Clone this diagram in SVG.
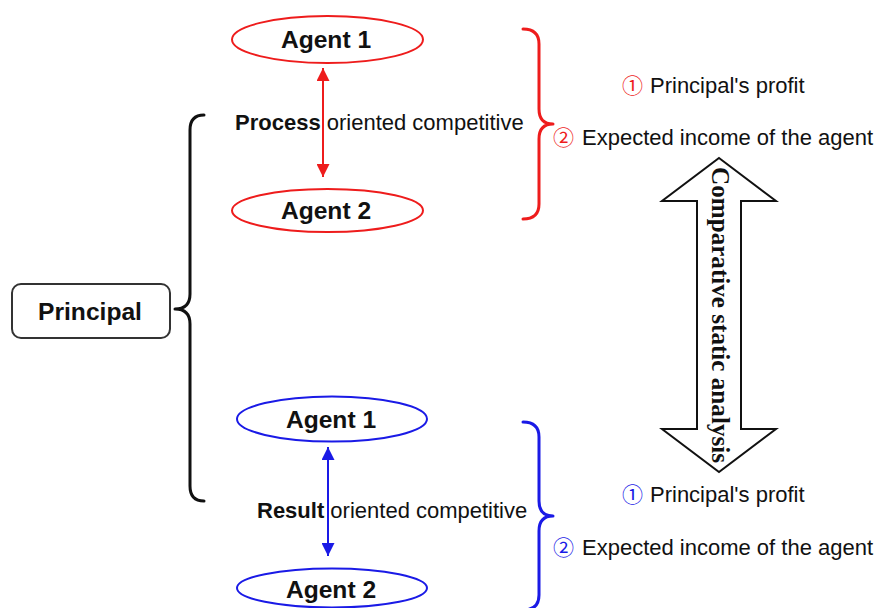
<svg xmlns="http://www.w3.org/2000/svg" width="877" height="608" viewBox="0 0 877 608">
<style>
  .lbl { font-family: "Liberation Sans", Arial, sans-serif; font-size: 22px; fill: #111; }
  .bold { font-family: "Liberation Sans", Arial, sans-serif; font-size: 24.6px; font-weight: bold; fill: #111; text-anchor: middle; }
  .num { font-family: "Liberation Sans", "Noto Sans CJK SC", sans-serif; font-size: 21px; }
  .red { stroke: #ee1c1c; }
  .blue { stroke: #1a1ae6; }
  .node { fill: #fff; stroke-width: 2; }
  .brace { fill: none; stroke-width: 3; stroke-linecap: round; stroke-linejoin: round; }
  .conn { stroke-width: 2; fill: none; }
</style>
<defs>
  <marker id="ahR" viewBox="0 0 10 10" refX="10" refY="5" markerWidth="6.5" markerHeight="6.5" orient="auto-start-reverse" markerUnits="strokeWidth">
    <path d="M0,0 L10,5 L0,10 z" fill="#ee1c1c"/>
  </marker>
  <marker id="ahB" viewBox="0 0 10 10" refX="10" refY="5" markerWidth="6.5" markerHeight="6.5" orient="auto-start-reverse" markerUnits="strokeWidth">
    <path d="M0,0 L10,5 L0,10 z" fill="#1a1ae6"/>
  </marker>
</defs>
<rect width="877" height="608" fill="#fff"/>

<g id="principal">
  <rect x="12" y="284" width="158" height="54" rx="9" fill="#fff" stroke="#333" stroke-width="2"/>
  <text class="bold" x="90" y="320">Principal</text>
</g>

<g id="process-agent1">
  <ellipse class="node red" cx="327.5" cy="39.5" rx="95.5" ry="23.5"/>
  <text class="bold" x="326" y="48">Agent 1</text>
</g>
<g id="process-agent2">
  <ellipse class="node red" cx="327.5" cy="210.5" rx="95.5" ry="21.5"/>
  <text class="bold" x="326" y="219">Agent 2</text>
</g>
<g id="result-agent1">
  <ellipse class="node blue" cx="332" cy="419" rx="95" ry="22.5"/>
  <text class="bold" x="331" y="428">Agent 1</text>
</g>
<g id="result-agent2">
  <ellipse class="node blue" cx="332" cy="588" rx="95" ry="19.5"/>
  <text class="bold" x="331" y="598">Agent 2</text>
</g>

<g id="process-label">
  <text class="lbl" x="235" y="130"><tspan font-weight="bold">Process</tspan> oriented competitive</text>
</g>
<g id="result-label">
  <text class="lbl" x="257" y="518"><tspan font-weight="bold">Result</tspan> oriented competitive</text>
</g>

<g id="process-outcomes">
  <text class="num" x="622" y="93" fill="#ee1c1c">①</text>
  <text class="lbl" x="650" y="93">Principal's profit</text>
  <text class="num" x="553" y="145" fill="#ee1c1c">②</text>
  <text class="lbl" x="582" y="145">Expected income of the agent</text>
</g>
<g id="result-outcomes">
  <text class="num" x="622" y="502" fill="#1a1ae6">①</text>
  <text class="lbl" x="650" y="502">Principal's profit</text>
  <text class="num" x="553" y="555" fill="#1a1ae6">②</text>
  <text class="lbl" x="582" y="555">Expected income of the agent</text>
</g>

<g id="comparative-arrow">
  <polygon points="719,158 776,201 741,201 741,429 776,429 719,472 662,429 697,429 697,201 662,201" fill="#fff" stroke="#111" stroke-width="2"/>
  <text transform="translate(712,315) rotate(90)" text-anchor="middle" font-family="'Liberation Serif', 'Times New Roman', serif" font-weight="bold" font-size="26" fill="#111" textLength="296" lengthAdjust="spacingAndGlyphs">Comparative static analysis</text>
</g>

<g id="connectors">
  <path class="brace" stroke="#111" d="M204 115 Q190 115 190 130 L190 294 Q190 309 175 309 Q190 309 190 324 L190 486 Q190 501 204 501"/>
  <path class="brace red" d="M523 29 Q539 29 539 44 L539 109 Q539 124 553 124 Q539 124 539 139 L539 204 Q539 219 523 219"/>
  <path class="brace blue" d="M523 422 Q539 422 539 437 L539 501 Q539 516 553 516 Q539 516 539 531 L539 595 Q539 610 523 610"/>
  <line class="conn red" x1="323" y1="68" x2="323" y2="177" marker-start="url(#ahR)" marker-end="url(#ahR)"/>
  <line class="conn blue" x1="328" y1="447" x2="328" y2="556" marker-start="url(#ahB)" marker-end="url(#ahB)"/>
</g>
</svg>
